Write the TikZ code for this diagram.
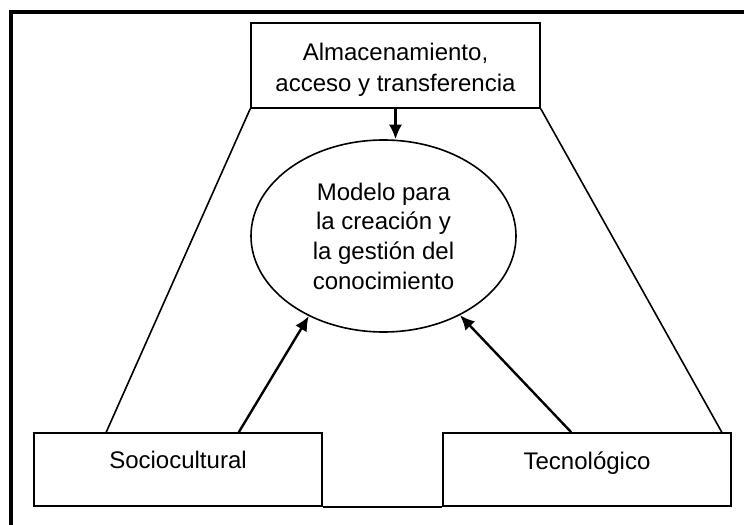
\documentclass[tikz,border=0pt]{standalone}
\usepackage{fontspec}
\setmainfont{Liberation Sans}
\usetikzlibrary{shapes.geometric,arrows.meta}

\begin{document}
\begin{tikzpicture}[x=0.75pt,y=0.75pt,yscale=-1,xscale=1,
  box/.style={draw,line width=1.2pt,rectangle,inner sep=0pt,align=center,
    font=\fontsize{18}{23.25}\selectfont},
  oval/.style={draw,line width=1.2pt,ellipse,inner sep=0pt,align=center,
    minimum width=198.75pt,minimum height=144pt,
    font=\fontsize{18}{22.25}\selectfont},
  arr/.style={line width=1.8pt,-{Latex[length=11pt,width=10pt]}},
  lnk/.style={line width=1.2pt}]
\useasboundingbox (0,0) rectangle (744,525);

%Frame
\draw [line width=3pt] (10.5,525) -- (10.5,12) -- (744,12);

%Shape: Rectangle
\node [box,minimum width=216.75pt,minimum height=63.75pt,text height=39pt,text depth=0pt] (alm) at (395.5,65.5)
  {Almacenamiento,\\acceso y transferencia};
%Shape: Ellipse
\node [oval] (mod) at (383.5,236)
  {Modelo para\\la creación y\\la gestión del\\conocimiento};
%Shape: Rectangle
\node [box,minimum width=216pt,minimum height=54.75pt,text depth=14pt] (soc) at (178,469.5)
  {Sociocultural};
%Shape: Rectangle
\node [box,minimum width=216pt,minimum height=54.75pt,text depth=14pt] (tec) at (587,469.5)
  {Tecnológico};

%Straight Lines
\draw [lnk] (alm.south west) -- ([xshift=54.75pt]soc.north west);
\draw [lnk] (alm.south east) -- ([xshift=-7.5pt]tec.north east);
\draw [line width=1.5pt] (soc.south east) -- (tec.south west);

%Arrows
\draw [arr] (alm.south) -- (alm.south |- mod.north);
\draw [arr] ([xshift=-63pt]soc.north east) -- (mod.227);
\draw [arr] ([xshift=96.75pt]tec.north west) -- (mod.314);

\end{tikzpicture}
\end{document}
